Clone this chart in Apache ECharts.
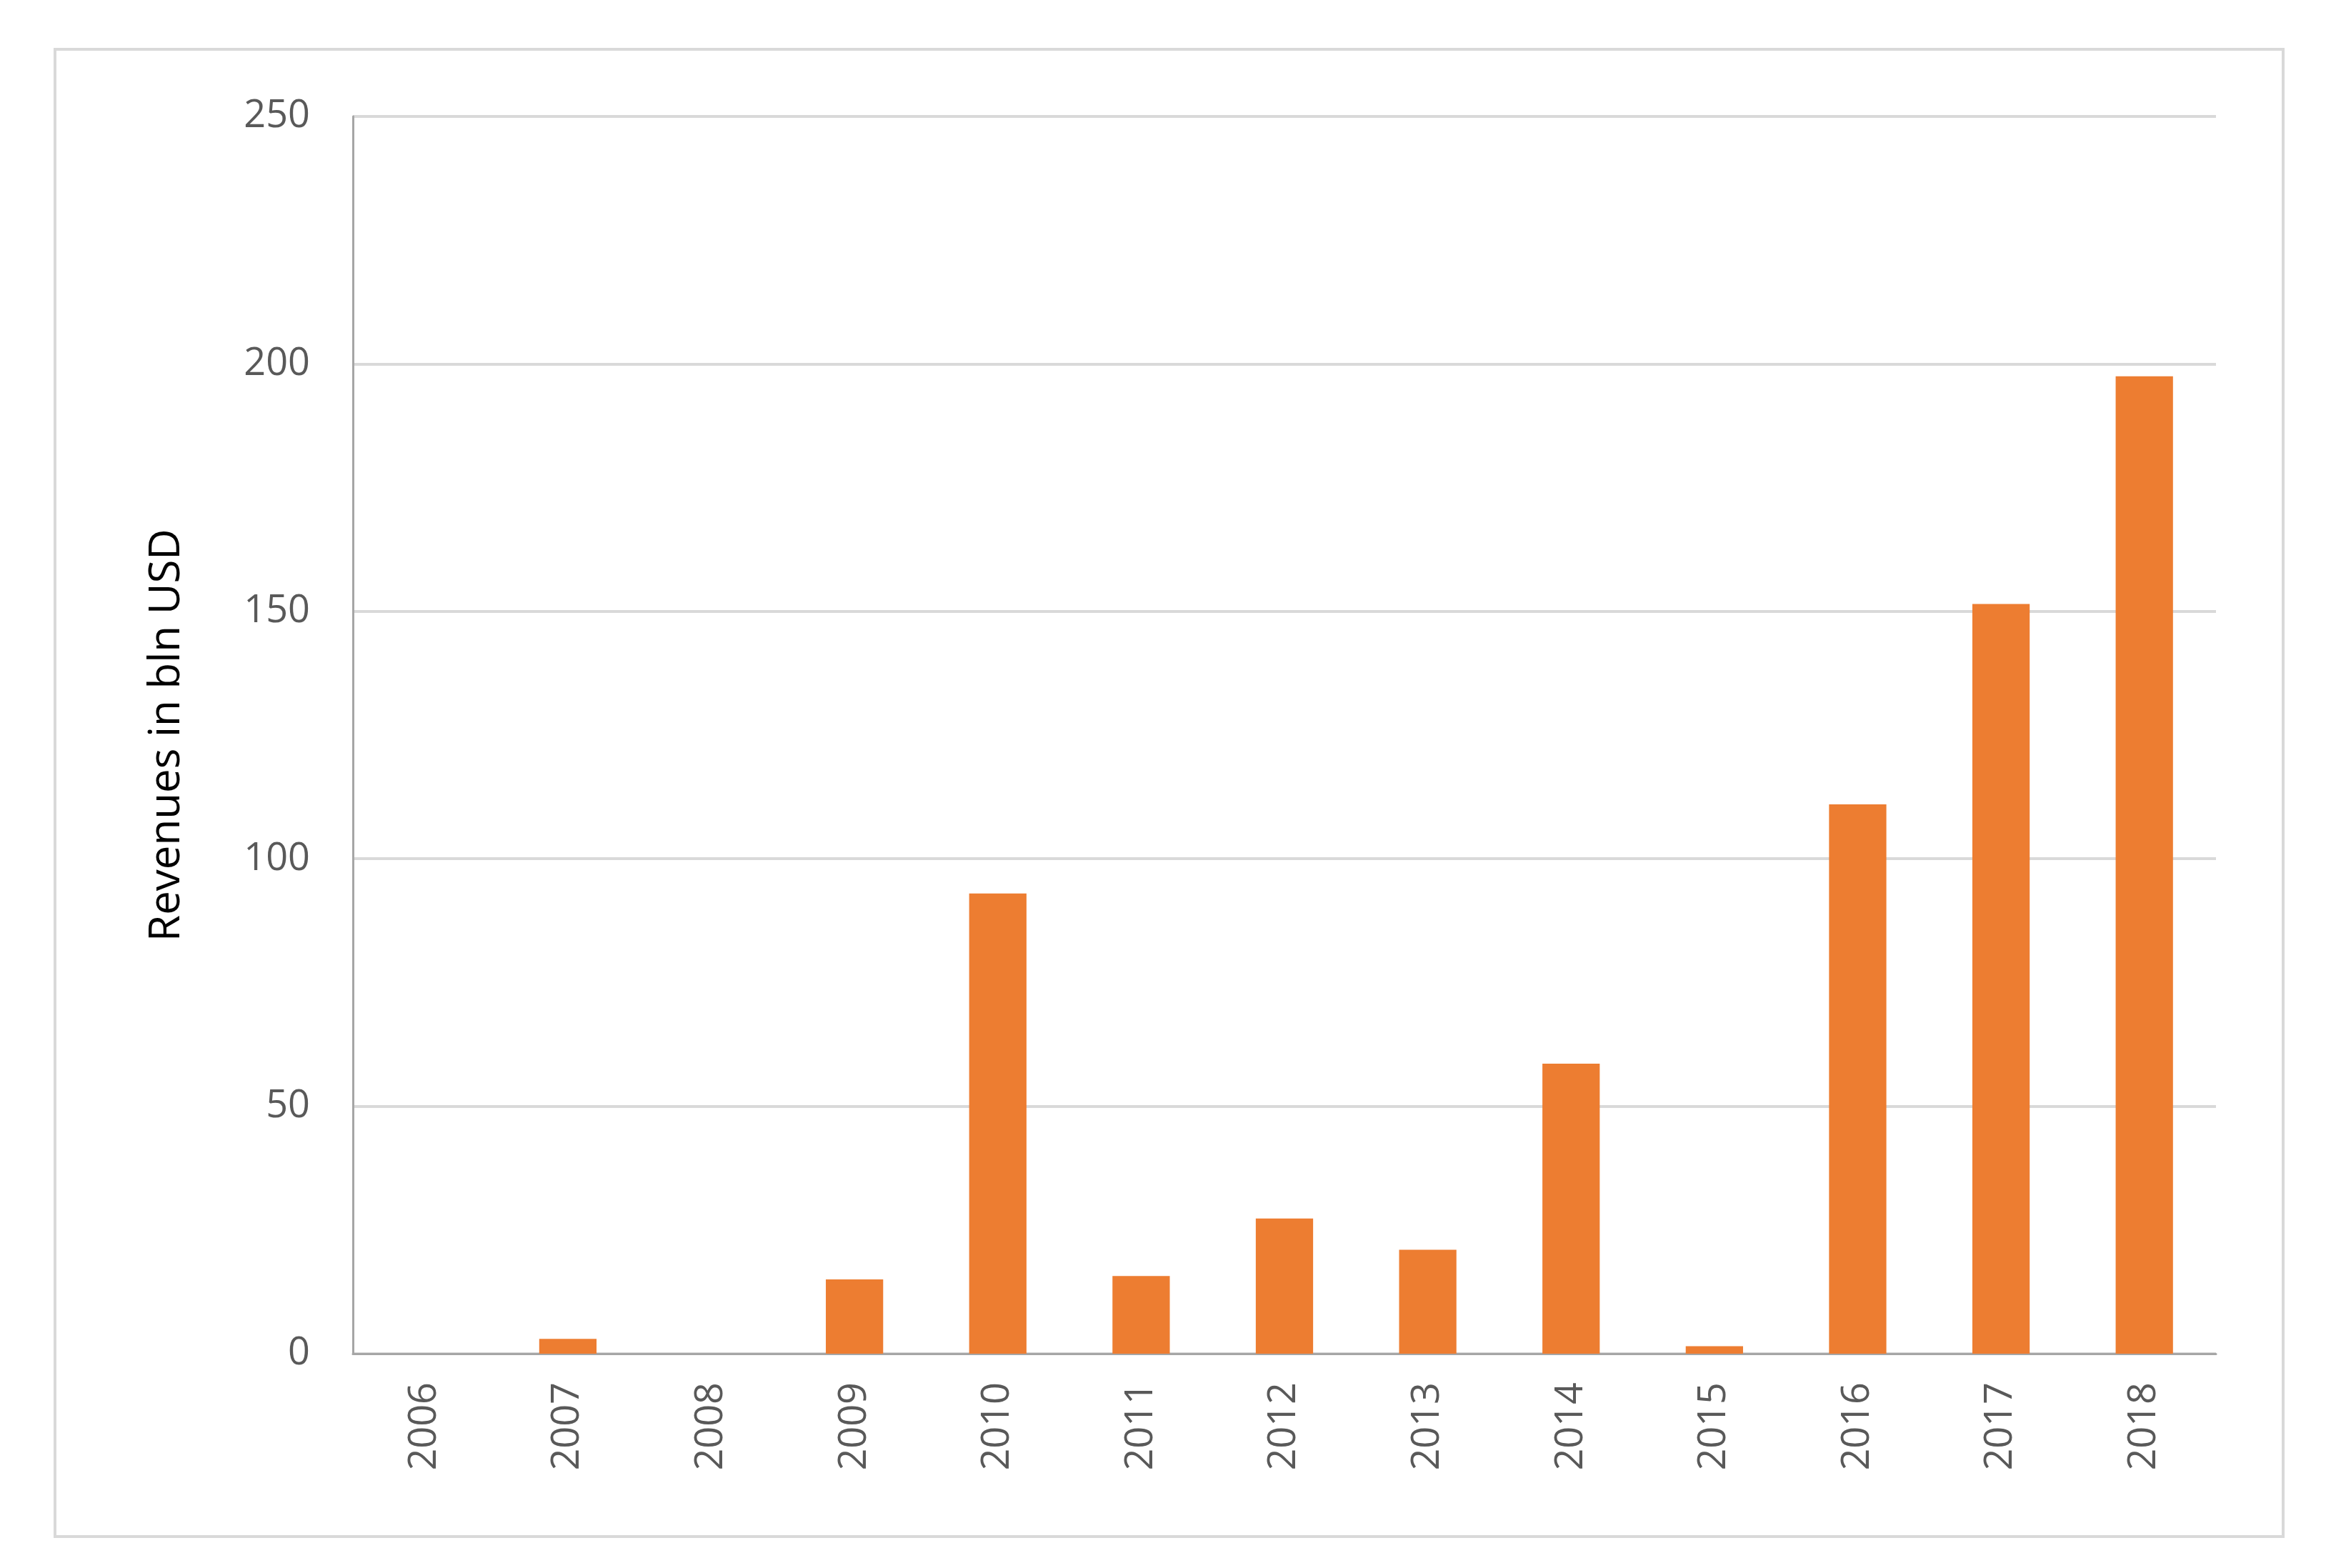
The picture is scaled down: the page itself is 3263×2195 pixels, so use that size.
<!DOCTYPE html>
<html><head><meta charset="utf-8">
<script src="https://cdn.jsdelivr.net/npm/echarts@6/dist/echarts.min.js"></script>
<style>html,body{margin:0;padding:0;background:#fff}#c{width:3263px;height:2195px}</style>
</head><body><div id="c"></div>
<script>
const years = ['2006','2007','2008','2009','2010','2011','2012','2013','2014','2015','2016','2017','2018'];
const revenues = [0, 3, 0, 15, 93, 15.7, 27.3, 21, 58.6, 1.5, 111, 151.5, 197.5];
const yTicks = [0, 50, 100, 150, 200, 250];
const chart = echarts.init(document.getElementById('c'));
chart.setOption({
  animation:false,
  graphic:[{type:'rect',shape:{x:77,y:69,width:3119,height:2082},style:{fill:'none',stroke:'#d9d9d9',lineWidth:4}}],
  grid:{left:494,right:161,top:163,bottom:300},
  xAxis:{type:'category',data:years,
    axisLine:{lineStyle:{color:'#a6a6a6',width:3}},axisTick:{show:false},
    axisLabel:{rotate:90,color:'#595959',fontSize:54,fontFamily:'Open Sans',margin:40}},
  yAxis:{type:'value',min:yTicks[0],max:yTicks[yTicks.length-1],interval:50,
    name:'Revenues in bln USD',nameLocation:'middle',nameGap:230,
    nameTextStyle:{color:'#000',fontSize:60,fontFamily:'Open Sans'},
    axisLine:{show:true,lineStyle:{color:'#a6a6a6',width:3}},
    axisLabel:{color:'#595959',fontSize:54,fontFamily:'Open Sans',margin:60},
    splitLine:{lineStyle:{color:'#d9d9d9',width:4}}},
  series:[{type:'bar',data:revenues,barWidth:'40%',itemStyle:{color:'#ed7d31'}}]
});
</script></body></html>
